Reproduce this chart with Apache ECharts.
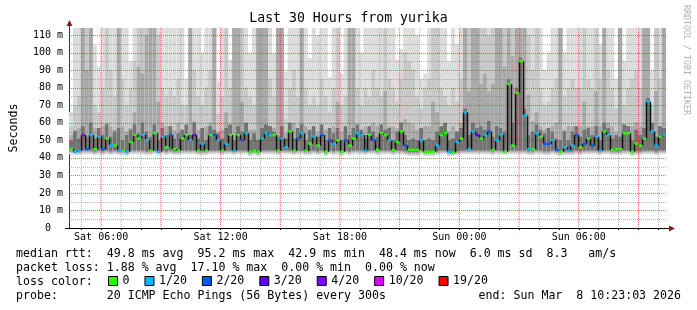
<!DOCTYPE html>
<html><head><meta charset="utf-8">
<script src="https://cdn.jsdelivr.net/npm/echarts@6/dist/echarts.min.js"></script>
<style>html,body{margin:0;padding:0;background:#fff}#c{width:697px;height:310px}</style>
</head><body><div id="c"></div><script>
// time axis in hours counted from Sat 00:00
const START = 4 + 23/60 + 3/3600;   // Sat 04:23:03
const SPAN = 30;
const STEP = 0.2;                    // 12-minute slots
const Y_MAX = 114;

// median rtt per slot (ms)
const med = [
 45,43.5,44,53,45,53,45,52,45,51,47,47,44,44,43.5,49,53,51,53,50,44,54,43.5,52,46,
 53,45,44,51,53,50,53,44,48,44,53,53,50,44,48,53,44,53,50,54,43.5,44,43.5,51,54,
 53,53,44,51,46,55,44,51,54,44,48,52,47,53,43.5,50,48,50,43.5,50,47,51,54,53,44,
 53,50,44.5,54,53,50,44.5,49,55,47,44.5,44.5,44.5,50,43.5,43.5,43.5,47,53,54,43.5,43,49,51,66,
 45,55,53,51,53,55,44.5,50,53,43.5,82,47,77,95,64,45,45,54,52,48,48,50,44.5,43.5,46,
 44,47,53,46,48,51,47,52,44,55,53,44.5,45,45,54,54,43.5,48,47,51,72,55,47,52,53];
// lost pings (of 20) per slot
const loss = [
 0,1,1,4,2,1,0,1,2,0,1,0,1,0,1,0,0,0,1,1,0,0,1,1,0,
 2,0,0,0,0,1,3,0,1,0,0,2,1,0,1,0,1,0,2,1,0,0,0,1,1,
 1,0,0,1,1,0,0,2,1,0,0,1,0,2,0,2,1,0,0,2,0,0,1,1,1,
 0,2,0,0,0,1,0,0,0,2,0,0,0,1,0,0,0,1,0,0,1,0,1,0,1,
 1,1,3,0,1,2,0,1,1,0,0,0,0,0,1,1,0,1,0,2,2,1,2,0,1,
 1,1,2,0,2,0,2,1,1,0,1,0,0,0,0,0,0,0,0,0,1,1,1,0,1];
// smoke: fastest ping, then band tops (slowest ping = hi)
const low = [
 42,41.5,41.5,42,42,42,41.5,42,41.5,42,41.5,42,41.5,41.5,41,42,42,42,42,41.5,41.5,42,41.5,42,41.5,
 42,41.5,41.5,42,42,42,42,41.5,41.5,41.5,42,42,42,41.5,42,42,41.5,42,42,42,41,41.5,41,42,42,
 42,42,41.5,42,42,42,41.5,42,42,41.5,41.5,42,41.5,42,41,42,41.5,42,41,42,41.5,42,42,42,41.5,
 42,42,41.5,42,42,42,41.5,42,42,41.5,41,41,41,42,41,41,41,41.5,42,42,41,41,41.5,42,42,
 42,42,42,42,42,42,41.5,42,42,41.5,42,42,42,42,42,41.5,41.5,42,42,41.5,41.5,42,41.5,41,41.5,
 41.5,41.5,42,41.5,42,42,42,42,41.5,42,42,41.5,41.5,41.5,42,42,41,41.5,41.5,42,42,42,41.5,42,42];
const core = [
 50,55,51,58,52,60,51,57,53,59,52,55,57,50,53,56,59,54,60,55,52,59,50,57,53,
 58,51,54,56,59,53,60,51,57,50,58,56,54,51,57,59,50,58,55,60,50,54,50,57,59,
 58,55,52,58,51,60,51,57,59,50,56,58,52,59,50,57,54,57,50,58,53,57,59,56,51,
 58,55,52,59,56,57,50,55,60,53,50,51,50,57,50,51,50,55,58,60,50,51,55,57,68,
 53,60,57,58,56,61,52,58,57,55,85,60,80,97,68,53,55,59,56,54,57,55,51,50,55,
 50,55,58,52,56,57,53,58,50,60,57,51,53,52,59,58,50,56,53,57,74,60,52,58,57];
const dk = [
 53,56,57,120,90,120,57,55,58,60,58,56,120,58,55,57,66,92,88,110,120,120,72,60,58,
 58,56,60,56,55,120,61,56,55,58,60,120,55,56,66,58,120,120,72,58,56,56,120,120,120,
 58,57,120,120,54,59,60,56,120,58,55,57,55,58,56,55,58,72,55,57,120,120,58,56,58,
 57,60,58,57,78,58,58,57,60,62,60,59,56,55,58,58,72,66,58,57,55,58,55,60,120,
 78,120,120,82,88,78,82,120,120,92,120,98,120,120,120,76,61,66,58,56,57,58,60,120,56,
 58,58,58,58,72,58,58,78,58,120,60,58,55,120,55,58,58,60,58,120,120,57,78,58,120];
const mid = [
 58,70,75,120,120,120,70,66,80,120,90,75,120,85,70,80,95,120,120,120,120,120,110,80,75,
 80,75,85,70,70,120,90,75,70,80,90,120,65,75,120,80,120,120,120,80,75,70,120,120,120,
 85,75,120,120,62,80,90,75,120,80,70,75,70,85,75,66,80,120,70,75,120,120,80,70,80,
 75,90,80,75,120,85,80,72,85,100,95,90,75,68,80,85,120,120,80,75,70,80,72,85,120,
 120,120,120,120,120,110,120,120,120,120,120,120,120,120,120,110,90,120,80,70,72,80,85,120,75,
 80,85,80,80,120,85,80,120,85,120,90,80,68,120,70,80,85,90,80,120,120,70,120,85,120];
const hi = [
 66,120,120,120,120,120,104,92,120,120,120,120,120,120,120,95,120,120,120,120,120,120,120,120,120,
 120,120,120,120,85,120,120,120,100,120,120,120,84,120,120,96,120,120,120,120,100,120,120,120,120,
 120,100,120,120,89,120,120,120,120,120,97,120,110,120,120,86,120,120,88,120,120,120,120,100,120,
 120,120,120,120,120,120,120,96,102,120,120,120,110,85,88,120,120,120,120,120,95,120,105,120,120,
 120,120,120,120,120,120,120,120,120,120,120,120,120,120,120,120,120,120,120,90,100,120,120,120,100,
 120,120,120,120,120,120,120,120,105,120,120,120,85,120,95,120,120,120,120,120,120,90,120,120,120];

const lossLevels = [0,1,2,3,4,10,19];
const lossNames = ['0','1/20','2/20','3/20','4/20','10/20','19/20'];
const lossColors = ['#26ff00','#00b8ff','#0059ff','#5e00ff','#7e00ff','#dd00ff','#ff0000'];
const xLabelHours = [6,12,18,24,30];
const hourLines = [5,6,7,8,9,10,11,12,13,14,15,16,17,18,19,20,21,22,23,24,25,26,27,28,29,30,31,32,33,34];
const valueLines = [5,10,15,20,25,30,35,40,45,50,55,60,65,70,75,80,85,90,95,100,105,110];
const yLabelValues = [0,10,20,30,40,50,60,70,80,90,100,110];

const MONO = '"DejaVu Sans Mono", monospace';
const chart = echarts.init(document.getElementById('c'), null, {renderer:'canvas'});

function pad2(n){ return (n<10?'0':'')+n; }
function fmtHour(h){ h = Math.round(h); return (h<24?'Sat ':'Sun ') + pad2(h%24) + ':00'; }

const smokeData = med.map((m,i)=>[START+i*STEP, low[i], core[i], dk[i], mid[i], hi[i]]);
// [dimension, colour, bottom inset in ms]
const smokeColors = [[5,'#dcdcdc',0],[4,'#c8c8c8',0.7],[3,'#a9a9a9',1.4],[2,'#747474',2.2]];

function renderSmoke(params, api){
  const cs = params.coordSys;
  const t = api.value(0);
  const x0 = api.coord([t,0])[0], x1 = api.coord([t+STEP,0])[0];
  const lo = api.value(1);
  const children = smokeColors.map(([d,c,ins])=>{
    const yb = api.coord([t, lo + ins])[1];
    const yt = Math.max(api.coord([t, api.value(d)])[1], cs.y);
    return {type:'rect', shape:{x:x0, y:yt, width:x1-x0, height:Math.max(0,yb-yt)}, style:{fill:c}};
  });
  return {type:'group', children};
}

const RED = 'rgba(255,0,0,0.6)', GRAY = 'rgba(110,110,110,0.5)';
function gridLines(params, api){
  // draws every grid line through the axis scales
  const cs = params.coordSys;
  const out = [];
  hourLines.forEach(h=>{
    const x = api.coord([h,0])[0];
    out.push({type:'line', shape:{x1:x, y1:cs.y, x2:x, y2:cs.y+cs.height},
      style:{stroke: h % 3 === 0 ? RED : GRAY, lineWidth:1, lineDash:[1,1]}});
  });
  valueLines.forEach(v=>{
    const y = Math.round(api.coord([START, v])[1]) + 0.5;
    out.push({type:'line', shape:{x1:cs.x, y1:y, x2:cs.x+cs.width, y2:y},
      style:{stroke: v % 10 === 0 ? RED : GRAY, lineWidth:1, lineDash:[1,1]}});
  });
  return {type:'group', children:out};
}

const connData = [];
for (let i=1;i<med.length;i++) connData.push([START+i*STEP, med[i-1], med[i]]);
function renderConn(params, api){
  const t = api.value(0);
  const p1 = api.coord([t, api.value(1)]), p2 = api.coord([t, api.value(2)]);
  const x = Math.round(p1[0]) + 0.5;
  return {type:'line', shape:{x1:x, y1:p1[1], x2:x, y2:p2[1]}, style:{stroke:'#111', lineWidth:1.5}};
}
function renderMed(params, api){
  const t = api.value(0), m = api.value(1);
  const a = api.coord([t, m]), b = api.coord([t+STEP, m]);
  return {type:'rect', shape:{x:a[0]+0.5, y:a[1]-1.25, width:b[0]-a[0]-0.5, height:2.5}, style:{fill: api.visual('color')}};
}
function renderArrows(params, api){
  const p = api.coord([START+SPAN, 0]);
  const q = api.coord([START, Y_MAX]);
  const o = api.coord([START, 0]);
  const ac = '#9a1414';
  return {type:'group', children:[
    {type:'line', shape:{x1:p[0], y1:p[1]+0.5, x2:p[0]+4, y2:p[1]+0.5}, style:{stroke:'#000', lineWidth:1}},
    {type:'line', shape:{x1:o[0]-4, y1:o[1]+0.5, x2:o[0], y2:o[1]+0.5}, style:{stroke:'#000', lineWidth:1}},
    {type:'polygon', shape:{points:[[p[0]+3,p[1]-2.5],[p[0]+9,p[1]+0.5],[p[0]+3,p[1]+3.5]]}, style:{fill:ac}},
    {type:'line', shape:{x1:q[0]+0.5, y1:q[1], x2:q[0]+0.5, y2:q[1]-3}, style:{stroke:'#333', lineWidth:1}},
    {type:'polygon', shape:{points:[[q[0]-2.5,q[1]-2],[q[0]+0.5,q[1]-8],[q[0]+3.5,q[1]-2]]}, style:{fill:ac}}
  ]};
}

const series = [
  {type:'custom', name:'smoke', data:smokeData, renderItem:renderSmoke, silent:true, z:1, encode:{x:0,y:1}},
  {type:'custom', name:'grid', data:[[START,0]], renderItem:gridLines, silent:true, z:2, clip:false, encode:{x:0,y:1}},
  {type:'custom', name:'medconn', data:connData, renderItem:renderConn, silent:true, z:3, encode:{x:0,y:1}}
];
lossLevels.forEach((lv,k)=>{
  const d = [];
  med.forEach((m,i)=>{ if (loss[i]===lv) d.push([START+i*STEP, m]); });
  series.push({type:'custom', name:lossNames[k], data:d, renderItem:renderMed, silent:true, z:4,
    itemStyle:{color:lossColors[k]}, encode:{x:0,y:1}});
});
series.push({type:'custom', name:'arrows', data:[[START,0]], renderItem:renderArrows, silent:true, z:5, clip:false, encode:{x:0,y:1}});

const txt = (s, x, y, align) => ({type:'text', x, y, silent:true,
  style:{text:s, font:'11.6px ' + MONO, fill:'#000', textAlign:align||'left', textVerticalAlign:'middle'}});

const option = {
  animation:false,
  backgroundColor:'#ffffff',
  title:{text:'Last 30 Hours from yurika', left:'center', top:12, padding:0,
    textStyle:{fontFamily:MONO, fontSize:13.2, fontWeight:'normal', color:'#000'}},
  grid:{left:66, right:31, top:28, bottom:82},
  legend:{data:lossNames, left:108, top:275, padding:0, itemWidth:9, itemHeight:9, itemGap:15,
    icon:'rect', selectedMode:false,
    itemStyle:{borderColor:'#000', borderWidth:1},
    textStyle:{fontFamily:MONO, fontSize:11.6, color:'#000', padding:[0,0,0,0]}},
  xAxis:{type:'value', min:START, max:START+SPAN,
    axisLine:{show:true, onZero:false, lineStyle:{color:'#000', width:1}},
    axisTick:{show:true, customValues:hourLines, length:2, lineStyle:{color:'#000'}},
    axisLabel:{customValues:xLabelHours, formatter:fmtHour, fontFamily:MONO, fontSize:10, color:'#000', margin:4},
    splitLine:{show:false}},
  yAxis:{type:'value', min:0, max:Y_MAX,
    name:'Seconds', nameLocation:'middle', nameGap:49, nameRotate:90,
    nameTextStyle:{fontFamily:MONO, fontSize:11.6, color:'#000'},
    axisLine:{show:true, lineStyle:{color:'#333', width:1}},
    axisTick:{show:false},
    axisLabel:{customValues:yLabelValues, formatter:v=> v===0 ? '0  ' : v + ' m', fontFamily:MONO, fontSize:10, color:'#000', margin:6},
    splitLine:{show:false}},
  series,
  graphic:[
    txt('median rtt:  49.8 ms avg  95.2 ms max  42.9 ms min  48.4 ms now  6.0 ms sd  8.3   am/s', 16, 254),
    txt('packet loss: 1.88 % avg  17.10 % max  0.00 % min  0.00 % now', 16, 268),
    txt('loss color:', 16, 282),
    txt('probe:       20 ICMP Echo Pings (56 Bytes) every 300s', 16, 296),
    txt('end: Sun Mar  8 10:23:03 2026', 681, 296, 'right'),
    {type:'text', x:686, y:60, rotation:-Math.PI/2, silent:true,
      style:{text:'RRDTOOL / TOBI OETIKER', font:'8.3px ' + MONO, fill:'#b0b0b0', textAlign:'center', textVerticalAlign:'middle'}}
  ]
};
chart.setOption(option);
</script></body></html>
